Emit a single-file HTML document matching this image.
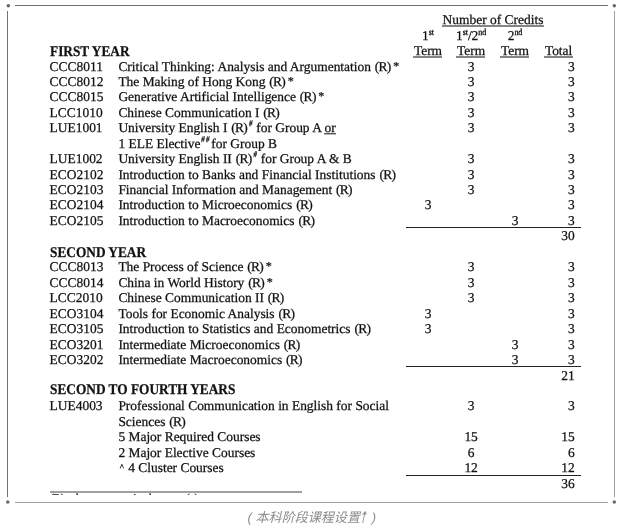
<!DOCTYPE html>
<html lang="en"><head><meta charset="utf-8"><title>Number of Credits</title>
<style>
html,body{margin:0;padding:0;background:#fff}
body{text-rendering:geometricPrecision;width:621px;height:530px;position:relative;overflow:hidden;font-family:"Liberation Serif","Noto Serif CJK SC",serif;color:#111}
.t{position:absolute;white-space:nowrap;-webkit-text-stroke:0.25px #111;font-size:13.45px;line-height:15px;height:15px}
.b{font-weight:bold;font-size:14.8px;line-height:16px;height:16px;transform:scaleX(0.9);transform-origin:0 0}
u{text-decoration:none;position:relative;display:inline-block}
u::after{content:"";position:absolute;left:-0.6px;right:-0.3px;top:13px;height:2px;background:#858585}
u.o::after{left:-0.4px;right:-0.4px;background:linear-gradient(#585858 0 50%,#b8b8b8 50% 100%)}
sup{display:inline-block;font-size:8px;line-height:1;height:8px;-webkit-text-stroke:0.3px #111;vertical-align:baseline;position:relative;top:-4.9px;letter-spacing:-0.1px;transform:scaleY(1.12);transform-origin:0 84%}
sup.h{font-style:italic;font-size:6.8px;height:6.8px;transform:scaleY(1.3);letter-spacing:0;top:-5.2px;margin-left:2px;margin-right:0.4px;-webkit-text-stroke:0.22px #111}
sup.dd{margin-left:0.8px;margin-right:0.8px;letter-spacing:1.2px}
.r{letter-spacing:-0.7px;margin-left:0.5px}
.st{letter-spacing:0;font-size:90%;margin-left:2.7px;position:relative;top:-1.2px}
.ct{font-size:9px;position:relative;top:-2.1px;margin:0 0.9px 0 1.3px}
.rule{position:absolute;left:406px;width:175px;height:1px;background:#222}
.ln{position:absolute;background:#8f8f8f}
.cap{position:absolute;left:247.6px;white-space:nowrap;top:508px;text-align:left;font-family:"Liberation Sans","Noto Sans CJK SC",sans-serif;font-style:italic;font-size:13.05px;line-height:20px;color:#8c8c8c;letter-spacing:0}
.ar{font-family:"DejaVu Sans",sans-serif;font-style:normal;font-size:16px;line-height:1;display:inline-block;transform:skewX(-12deg) scaleX(0.62);margin:0 -2.2px 0 -3.0px;position:relative;top:0.5px}
.fn{position:absolute;left:50px;top:491px;width:252px;height:2px;background:#a0a0a0}
.fnt{position:absolute;left:49.8px;top:493px;width:300px;height:2.2px;overflow:hidden}
</style></head><body>
<div class="ln" style="left:15px;top:5px;width:593px;height:1px;background:#6f6f6f"></div>
<div class="ln" style="left:15px;top:502px;width:593px;height:1px;background:#a1a1a1"></div>
<div class="ln" style="left:7px;top:11px;width:1px;height:486px;background:#727272"></div>
<div class="ln" style="left:614px;top:11px;width:1px;height:486px;background:#a0a0a0"></div>
<svg width="621" height="530" viewBox="0 0 621 530" style="position:absolute;left:0;top:0" aria-hidden="true">
<circle cx="8.3" cy="5.7" r="1.75" fill="#686868"/>
<circle cx="614.3" cy="5.7" r="1.75" fill="#686868"/>
<circle cx="7.8" cy="502.05" r="1.75" fill="#686868"/>
<circle cx="614.3" cy="502.05" r="1.75" fill="#686868"/>
</svg>
<div class="t" style="left:393px;width:200px;text-align:center;top:12px"><u>Number of Credits</u></div>
<div class="t" style="left:328px;width:200px;text-align:center;top:28px">1<sup>st</sup></div>
<div class="t" style="left:371.1px;width:200px;text-align:center;top:28px">1<sup>st</sup>/2<sup>nd</sup></div>
<div class="t" style="left:415px;width:200px;text-align:center;top:28px">2<sup>nd</sup></div>
<div class="t b" style="left:49.6px;top:44px">FIRST YEAR</div>
<div class="t" style="left:328px;width:200px;text-align:center;top:43px"><u>Term</u></div>
<div class="t" style="left:371.1px;width:200px;text-align:center;top:43px"><u>Term</u></div>
<div class="t" style="left:415px;width:200px;text-align:center;top:43px"><u>Term</u></div>
<div class="t" style="left:458.6px;width:200px;text-align:center;top:43px"><u>Total</u></div>
<div class="t" style="left:49.6px;top:59px">CCC8011</div>
<div class="t" style="left:118.4px;top:59px">Critical Thinking: Analysis and Argumentation <span class="r">(R)</span><span class="st">*</span></div>
<div class="t" style="left:371.1px;width:200px;text-align:center;top:59px">3</div>
<div class="t" style="left:374.8px;width:200px;text-align:right;top:59px">3</div>
<div class="t" style="left:49.6px;top:74px">CCC8012</div>
<div class="t" style="left:118.4px;top:74px">The Making of Hong Kong <span class="r">(R)</span><span class="st">*</span></div>
<div class="t" style="left:371.1px;width:200px;text-align:center;top:74px">3</div>
<div class="t" style="left:374.8px;width:200px;text-align:right;top:74px">3</div>
<div class="t" style="left:49.6px;top:89px">CCC8015</div>
<div class="t" style="left:118.4px;top:89px">Generative Artificial Intelligence <span class="r">(R)</span><span class="st">*</span></div>
<div class="t" style="left:371.1px;width:200px;text-align:center;top:89px">3</div>
<div class="t" style="left:374.8px;width:200px;text-align:right;top:89px">3</div>
<div class="t" style="left:49.6px;top:105px">LCC1010</div>
<div class="t" style="left:118.4px;top:105px">Chinese Communication I <span class="r">(R)</span></div>
<div class="t" style="left:371.1px;width:200px;text-align:center;top:105px">3</div>
<div class="t" style="left:374.8px;width:200px;text-align:right;top:105px">3</div>
<div class="t" style="left:49.6px;top:120px">LUE1001</div>
<div class="t" style="left:118.4px;top:120px">University English I <span class="r">(R)</span><sup class="h">#</sup> for Group A <u class="o">or</u></div>
<div class="t" style="left:371.1px;width:200px;text-align:center;top:120px">3</div>
<div class="t" style="left:374.8px;width:200px;text-align:right;top:120px">3</div>
<div class="t" style="left:118.4px;top:136px">1 ELE Elective<sup class="h dd">##</sup>for Group B</div>
<div class="t" style="left:49.6px;top:151px">LUE1002</div>
<div class="t" style="left:118.4px;top:151px">University English II <span class="r">(R)</span><sup class="h">#</sup> for Group A &amp; B</div>
<div class="t" style="left:371.1px;width:200px;text-align:center;top:151px">3</div>
<div class="t" style="left:374.8px;width:200px;text-align:right;top:151px">3</div>
<div class="t" style="left:49.6px;top:167px">ECO2102</div>
<div class="t" style="left:118.4px;top:167px">Introduction to Banks and Financial Institutions <span class="r">(R)</span></div>
<div class="t" style="left:371.1px;width:200px;text-align:center;top:167px">3</div>
<div class="t" style="left:374.8px;width:200px;text-align:right;top:167px">3</div>
<div class="t" style="left:49.6px;top:182px">ECO2103</div>
<div class="t" style="left:118.4px;top:182px">Financial Information and Management <span class="r">(R)</span></div>
<div class="t" style="left:371.1px;width:200px;text-align:center;top:182px">3</div>
<div class="t" style="left:374.8px;width:200px;text-align:right;top:182px">3</div>
<div class="t" style="left:49.6px;top:197px">ECO2104</div>
<div class="t" style="left:118.4px;top:197px">Introduction to Microeconomics <span class="r">(R)</span></div>
<div class="t" style="left:328px;width:200px;text-align:center;top:197px">3</div>
<div class="t" style="left:374.8px;width:200px;text-align:right;top:197px">3</div>
<div class="t" style="left:49.6px;top:213px">ECO2105</div>
<div class="t" style="left:118.4px;top:213px">Introduction to Macroeconomics <span class="r">(R)</span></div>
<div class="t" style="left:415px;width:200px;text-align:center;top:213px">3</div>
<div class="t" style="left:374.8px;width:200px;text-align:right;top:213px">3</div>
<div class="rule" style="top:227px"></div>
<div class="t" style="left:374.8px;width:200px;text-align:right;top:228px">30</div>
<div class="t b" style="left:49.6px;top:245px">SECOND YEAR</div>
<div class="t" style="left:49.6px;top:259px">CCC8013</div>
<div class="t" style="left:118.4px;top:259px">The Process of Science <span class="r">(R)</span><span class="st">*</span></div>
<div class="t" style="left:371.1px;width:200px;text-align:center;top:259px">3</div>
<div class="t" style="left:374.8px;width:200px;text-align:right;top:259px">3</div>
<div class="t" style="left:49.6px;top:275px">CCC8014</div>
<div class="t" style="left:118.4px;top:275px">China in World History <span class="r">(R)</span><span class="st">*</span></div>
<div class="t" style="left:371.1px;width:200px;text-align:center;top:275px">3</div>
<div class="t" style="left:374.8px;width:200px;text-align:right;top:275px">3</div>
<div class="t" style="left:49.6px;top:290px">LCC2010</div>
<div class="t" style="left:118.4px;top:290px">Chinese Communication II <span class="r">(R)</span></div>
<div class="t" style="left:371.1px;width:200px;text-align:center;top:290px">3</div>
<div class="t" style="left:374.8px;width:200px;text-align:right;top:290px">3</div>
<div class="t" style="left:49.6px;top:306px">ECO3104</div>
<div class="t" style="left:118.4px;top:306px">Tools for Economic Analysis <span class="r">(R)</span></div>
<div class="t" style="left:328px;width:200px;text-align:center;top:306px">3</div>
<div class="t" style="left:374.8px;width:200px;text-align:right;top:306px">3</div>
<div class="t" style="left:49.6px;top:321px">ECO3105</div>
<div class="t" style="left:118.4px;top:321px">Introduction to Statistics and Econometrics <span class="r">(R)</span></div>
<div class="t" style="left:328px;width:200px;text-align:center;top:321px">3</div>
<div class="t" style="left:374.8px;width:200px;text-align:right;top:321px">3</div>
<div class="t" style="left:49.6px;top:337px">ECO3201</div>
<div class="t" style="left:118.4px;top:337px">Intermediate Microeconomics <span class="r">(R)</span></div>
<div class="t" style="left:415px;width:200px;text-align:center;top:337px">3</div>
<div class="t" style="left:374.8px;width:200px;text-align:right;top:337px">3</div>
<div class="t" style="left:49.6px;top:352px">ECO3202</div>
<div class="t" style="left:118.4px;top:352px">Intermediate Macroeconomics <span class="r">(R)</span></div>
<div class="t" style="left:415px;width:200px;text-align:center;top:352px">3</div>
<div class="t" style="left:374.8px;width:200px;text-align:right;top:352px">3</div>
<div class="rule" style="top:366px"></div>
<div class="t" style="left:374.8px;width:200px;text-align:right;top:368px">21</div>
<div class="t b" style="left:49.6px;top:382px">SECOND TO FOURTH YEARS</div>
<div class="t" style="left:49.6px;top:398px">LUE4003</div>
<div class="t" style="left:118.4px;top:398px">Professional Communication in English for Social</div>
<div class="t" style="left:371.1px;width:200px;text-align:center;top:398px">3</div>
<div class="t" style="left:374.8px;width:200px;text-align:right;top:398px">3</div>
<div class="t" style="left:118.4px;top:414px">Sciences <span class="r">(R)</span></div>
<div class="t" style="left:118.4px;top:429px">5 Major Required Courses</div>
<div class="t" style="left:371.1px;width:200px;text-align:center;top:429px">15</div>
<div class="t" style="left:374.8px;width:200px;text-align:right;top:429px">15</div>
<div class="t" style="left:118.4px;top:445px">2 Major Elective Courses</div>
<div class="t" style="left:371.1px;width:200px;text-align:center;top:445px">6</div>
<div class="t" style="left:374.8px;width:200px;text-align:right;top:445px">6</div>
<div class="t" style="left:118.4px;top:460px"><span class="ct">^</span> 4 Cluster Courses</div>
<div class="t" style="left:371.1px;width:200px;text-align:center;top:460px">12</div>
<div class="t" style="left:374.8px;width:200px;text-align:right;top:460px">12</div>
<div class="rule" style="top:475px"></div>
<div class="t" style="left:374.8px;width:200px;text-align:right;top:476px">36</div>
<div class="fn"></div>
<div class="fnt"><div class="t" style="left:0;top:-2.3px;transform:scaleX(0.885);transform-origin:0 0"><span class="r" style="margin:0 3.3px 0 0">(R)</span>&nbsp; denotes required course(s)</div></div>
<div class="cap">( 本科阶段课程设置<span class="ar">↑</span> )</div>
</body></html>
